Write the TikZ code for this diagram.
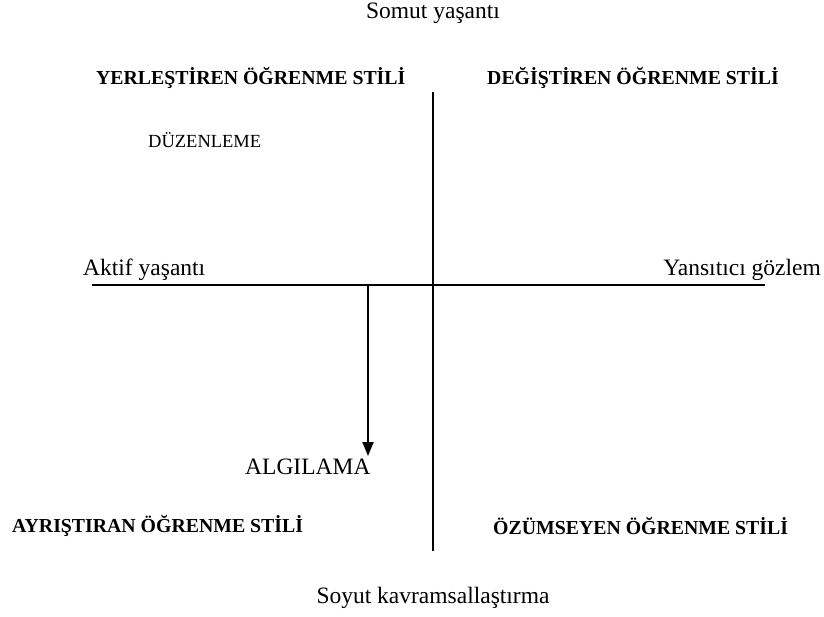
\documentclass[tikz,border=0pt]{standalone}
\usepackage{fontspec}
\setmainfont{Liberation Serif}
\usetikzlibrary{arrows.meta}
\begin{document}
\begin{tikzpicture}[x=1pt,y=-1pt,
  lbl/.style={font=\fontsize{23.5}{28}\selectfont, inner sep=0, anchor=west},
  smalllbl/.style={font=\fontsize{18.5}{22}\selectfont, inner sep=0, anchor=west},
  boldlbl/.style={font=\fontsize{19.8}{24}\selectfont\bfseries, inner sep=0, anchor=west},
  axisline/.style={line width=2pt},
  arrowline/.style={line width=2pt, -{Triangle[length=14pt,width=11pt]}}]
\useasboundingbox (0,0) rectangle (824,616);
\node[lbl, anchor=center] (top) at (433,13) {Somut yaşantı};
\node[boldlbl] (yer) at (96,78) {YERLEŞTİREN ÖĞRENME STİLİ};
\node[boldlbl] (deg) at (487,78) {DEĞİŞTİREN ÖĞRENME STİLİ};
\node[smalllbl] (duz) at (148,140) {DÜZENLEME};
\node[lbl] (akt) at (83,270) {Aktif yaşantı};
\node[lbl, anchor=east] (yan) at (821,270) {Yansıtıcı gözlem};
\node[lbl] (alg) at (245,467) {ALGILAMA};
\node[boldlbl] (ayr) at (12,526) {AYRIŞTIRAN ÖĞRENME STİLİ};
\node[boldlbl] (ozu) at (493,526) {ÖZÜMSEYEN ÖĞRENME STİLİ};
\node[lbl, anchor=center] (bot) at (433,598) {Soyut kavramsallaştırma};
\coordinate (vt) at (433,92);
\coordinate (vb) at (433,551);
\coordinate (hl) at (92,285);
\coordinate (hr) at (765,285);
\coordinate (as) at (368,285);
\coordinate (ae) at (368,456);
\draw[axisline] (vt) -- (vb);
\draw[axisline] (hl) -- (hr);
\draw[arrowline] (as) -- (ae);
\end{tikzpicture}
\end{document}
